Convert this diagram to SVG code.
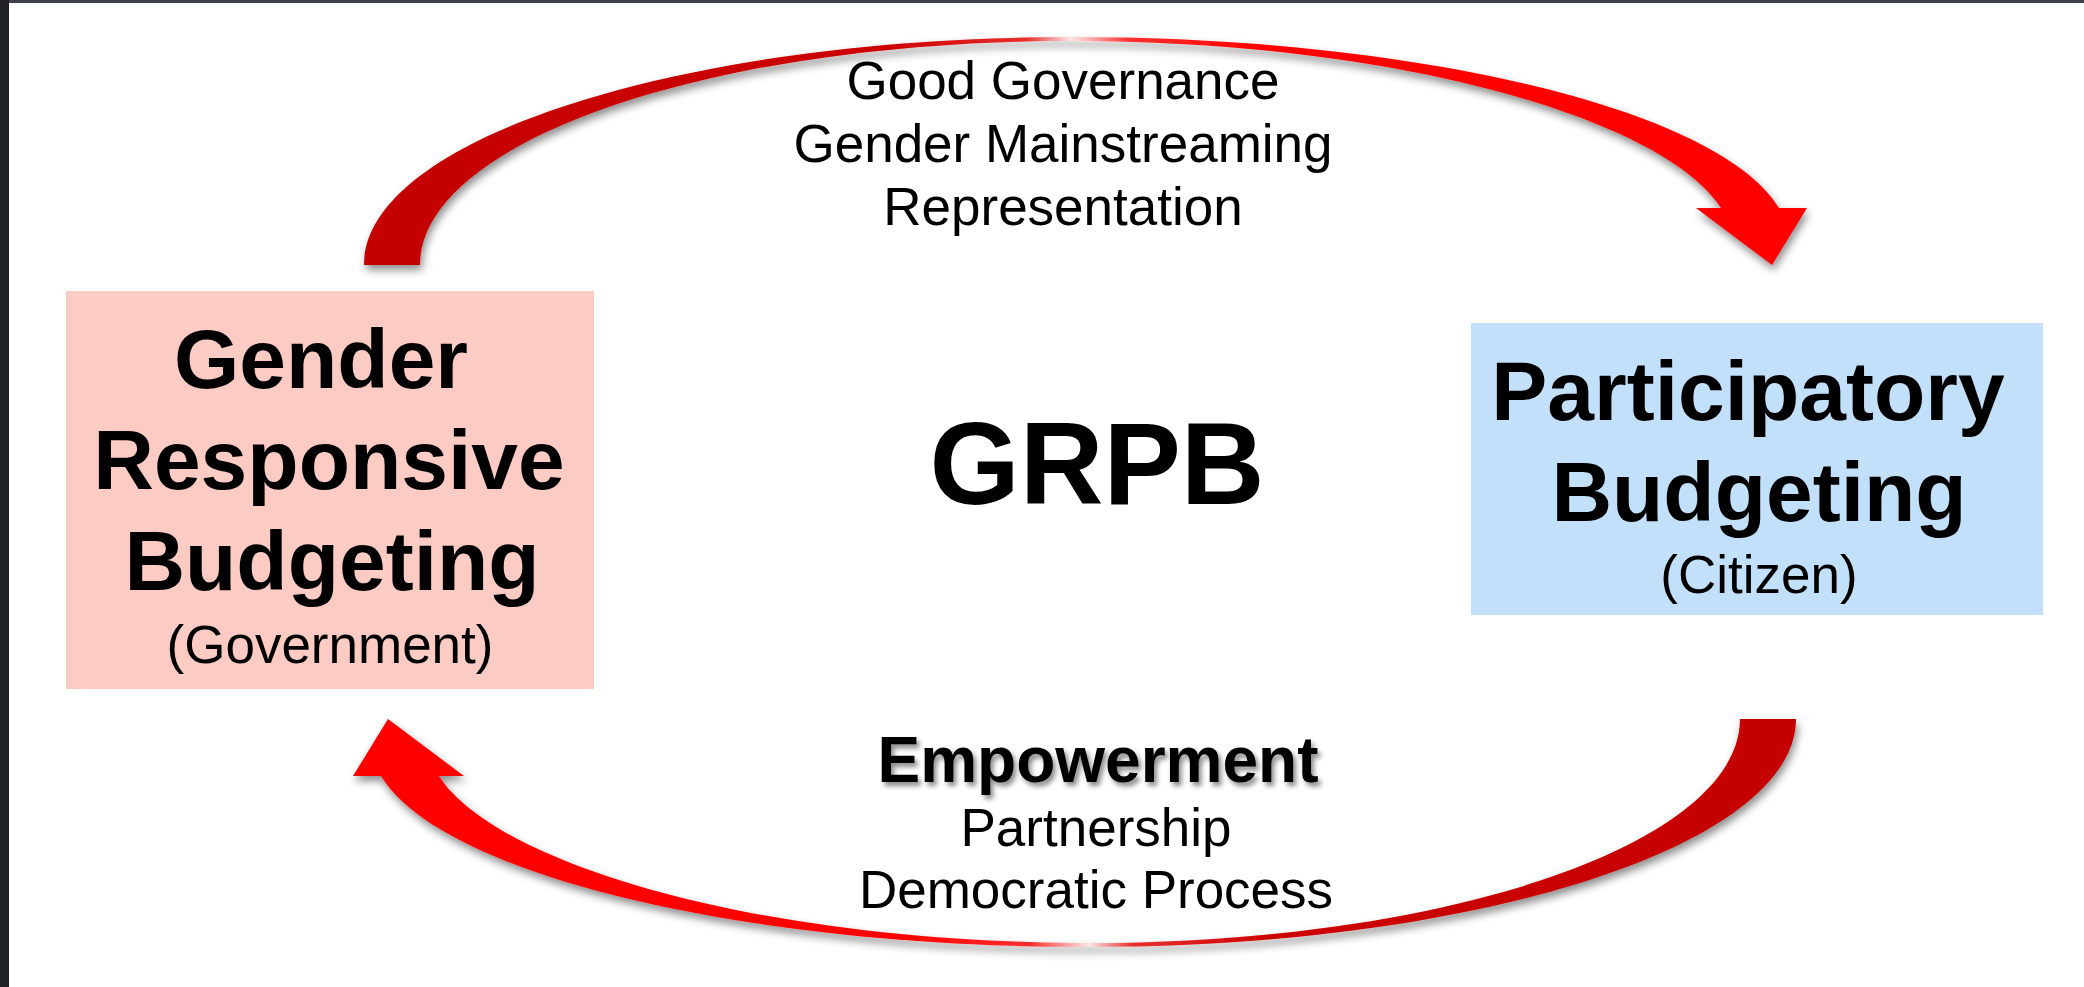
<svg xmlns="http://www.w3.org/2000/svg" xmlns:xlink="http://www.w3.org/1999/xlink" width="2084" height="987" viewBox="0 0 2084 987">
<style>
.t{font-family:"Liberation Sans",Arial,sans-serif;fill:#000;text-anchor:middle}
.b{font-weight:bold}
.lbl{font-size:53px}
.box{font-size:84px;font-weight:bold}
.sub{font-size:53px}
</style>
<defs>
<linearGradient id="arcGrad" gradientUnits="userSpaceOnUse" x1="364" y1="0" x2="1807" y2="0">
<stop offset="0" stop-color="#C40000"/>
<stop offset="0.36" stop-color="#CC0000"/>
<stop offset="0.46" stop-color="#E83030"/>
<stop offset="0.49" stop-color="#FFE6E6"/>
<stop offset="0.53" stop-color="#FF3030"/>
<stop offset="0.62" stop-color="#FF0000"/>
<stop offset="1" stop-color="#FF0000"/>
</linearGradient>
<filter id="shadow" x="-10%" y="-20%" width="120%" height="150%">
<feDropShadow dx="2" dy="5" stdDeviation="4" flood-color="#000" flood-opacity="0.45"/>
</filter>
<filter id="tshadow" x="-10%" y="-30%" width="120%" height="160%">
<feDropShadow dx="3" dy="4" stdDeviation="2.5" flood-color="#000" flood-opacity="0.45"/>
</filter>
<path id="arc" fill="url(#arcGrad)" d="M364,265 C364,139 681,37 1071,37 C1420,37 1720,110 1779,208 L1807,208 L1772,265 L1696,208 L1721,208 C1665,120 1400,41 1071,41 C711,41 420,141 420,265 Z"/>
</defs>
<rect x="0" y="0" width="2084" height="987" fill="#FFFFFF"/>
<rect x="0" y="0" width="2084" height="3" fill="#3D4148"/>
<rect x="0" y="0" width="9" height="987" fill="#1F2126"/>

<g id="connectors">
<g id="arrow-top" filter="url(#shadow)"><use xlink:href="#arc"/></g>
<g id="arrow-bottom" filter="url(#shadow)"><use xlink:href="#arc" transform="rotate(180 1080 492)"/></g>
</g>

<g id="top-labels">
<text class="t lbl" x="1063" y="99">Good Governance</text>
<text class="t lbl" x="1063" y="162">Gender Mainstreaming</text>
<text class="t lbl" x="1063" y="225">Representation</text>
</g>

<g id="node-grb">
<rect x="66" y="291" width="528" height="398" fill="#FCCBC3"/>
<text class="t box" x="321" y="388">Gender</text>
<text class="t box" x="329" y="489" font-size="82">Responsive</text>
<text class="t box" x="332" y="590">Budgeting</text>
<text class="t sub" x="330" y="663">(Government)</text>
</g>

<g id="node-grpb">
<text class="t b" x="1097" y="504" font-size="116">GRPB</text>
</g>

<g id="node-pb">
<rect x="1471" y="323" width="572" height="292" fill="#C3E0FB"/>
<text class="t box" x="1748" y="420">Participatory</text>
<text class="t box" x="1759" y="521">Budgeting</text>
<text class="t sub" x="1759" y="593">(Citizen)</text>
</g>

<g id="bottom-labels">
<text class="t b" x="1098" y="782" font-size="64" filter="url(#tshadow)">Empowerment</text>
<text class="t lbl" x="1096" y="846">Partnership</text>
<text class="t lbl" x="1096" y="908">Democratic Process</text>
</g>
</svg>
